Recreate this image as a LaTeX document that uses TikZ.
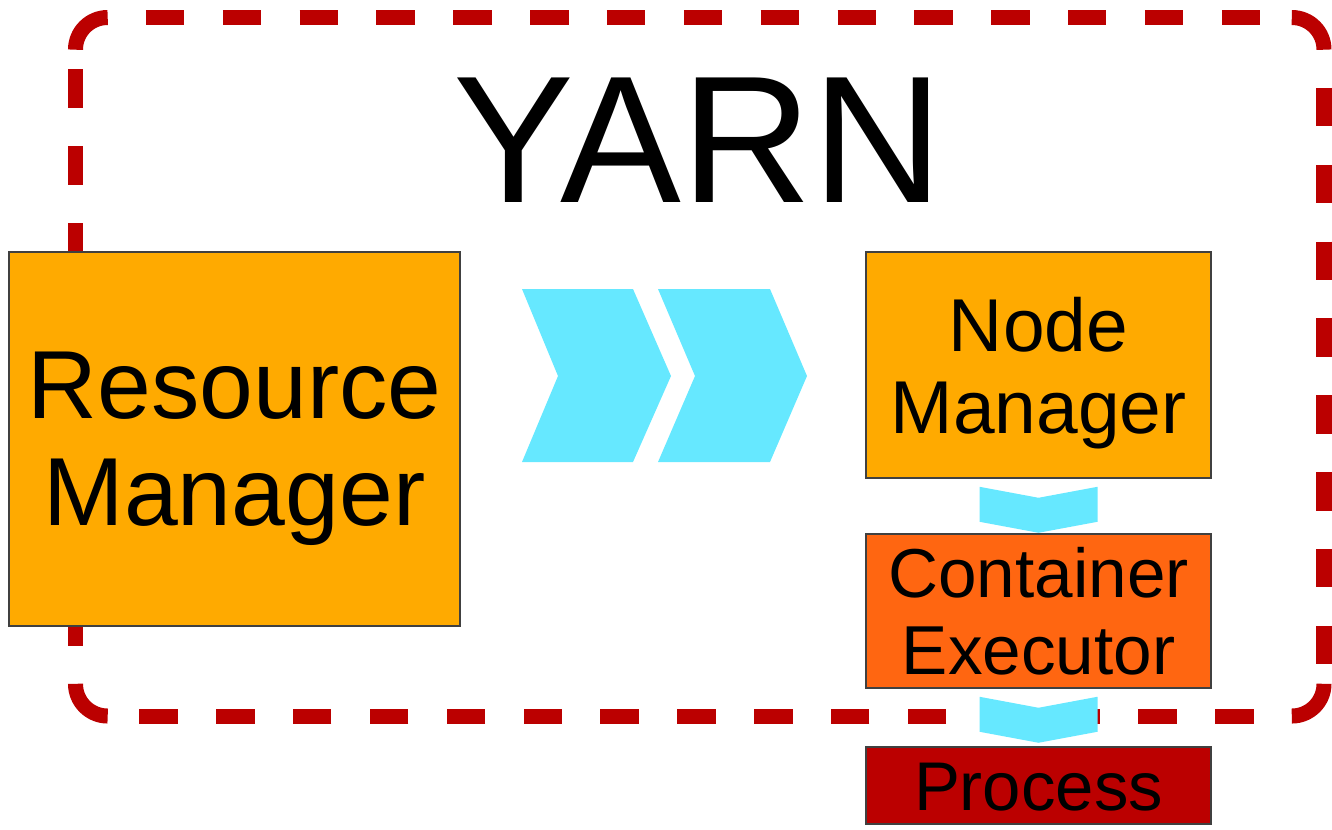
\documentclass[tikz,border=0pt]{standalone}
\usepackage{fontspec}
\setmainfont{Liberation Sans}

\definecolor{yarnred}{HTML}{BB0000}
\definecolor{rmorange}{HTML}{FFAA00}
\definecolor{ceorange}{HTML}{FF6611}
\definecolor{chevcyan}{HTML}{66E8FF}

\begin{document}
\begin{tikzpicture}[x=0.01cm,y=-0.01cm,
  box/.style={rectangle,draw=black!75,line width=0.4pt,inner sep=0pt,minimum width=3.45cm},
  boxtext/.style={inner sep=0pt,align=center},
  frame/.style={draw=yarnred,line width=0.15cm},
  framedash/.style={frame,dash pattern=on 0.384cm off 0.384cm,dash phase=0.384cm},
  chevron/.style={fill=chevcyan}]
  \useasboundingbox (0,0) rectangle (1332,829);

  % dashed YARN frame, solid round corners
  \draw[frame,rounded corners=0.32cm] (75.5,49.5) |- (107.5,17.5);
  \draw[frame,rounded corners=0.32cm] (1292,17.5) -| (1324,49.5);
  \draw[frame,rounded corners=0.32cm] (1324,684) |- (1292,716);
  \draw[frame,rounded corners=0.32cm] (107.5,716) -| (75.5,684);
  \draw[framedash] (107.5,17.5) -- (1292,17.5);
  \draw[framedash] (1324,49.5) -- (1324,684);
  \draw[framedash] (1292,716) -- (107.5,716);
  \draw[framedash] (75.5,684) -- (75.5,49.5);
  \node[anchor=base,font=\fontsize{51.5}{60}\selectfont] (yarn) at (698,202) {YARN};

  \node[box,fill=rmorange,minimum width=4.51cm,minimum height=3.74cm] (rm) at (234.5,439) {};
  \node[box,fill=rmorange,minimum height=2.26cm] (nm) at (1038.5,365) {};
  \node[box,fill=ceorange,minimum height=1.54cm] (ce) at (1038.5,611) {};
  \node[box,fill=yarnred,minimum height=0.77cm] (pr) at (1038.5,785.5) {};

  \node[boxtext,font=\fontsize{27.5}{30.4}\selectfont] (rmtext) at ([shift={(0,10)}]rm.center) {Resource\\Manager};
  \node[boxtext,font=\fontsize{21.3}{23.3}\selectfont] (nmtext) at ([shift={(0,8)}]nm.center) {Node\\Manager};
  \node[boxtext,font=\fontsize{19.7}{21.9}\selectfont] (cetext) at (ce.center) {Container\\Executor};
  \node[boxtext,font=\fontsize{19.6}{22}\selectfont] (prtext) at ([shift={(0,2)}]pr.center) {Process};

  % big chevrons between the managers
  \fill[chevron] (522,289) -- (633,289) -- (671,376) -- (633,462) -- (522,462) -- (558,376) -- cycle;
  \fill[chevron] (658,289) -- (770,289) -- (807,376) -- (770,462) -- (658,462) -- (695,376) -- cycle;

  % small chevrons down the node column
  \foreach \n in {nm,ce}
    \fill[chevron] ([shift={(-59,8)}]\n.south) -- ([shift={(0,19)}]\n.south) -- ([shift={(59,8)}]\n.south)
      -- ([shift={(59,43)}]\n.south) -- ([shift={(0,54)}]\n.south) -- ([shift={(-59,43)}]\n.south) -- cycle;
\end{tikzpicture}
\end{document}
